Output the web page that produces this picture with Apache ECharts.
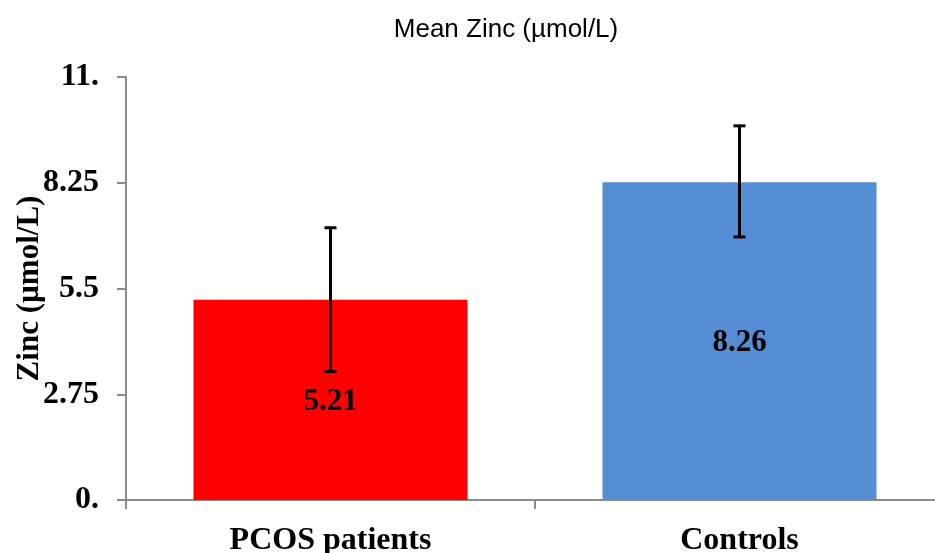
<!DOCTYPE html>
<html>
<head>
<meta charset="utf-8">
<script src="https://cdn.jsdelivr.net/npm/echarts@6/dist/echarts.min.js"></script>
<style>
  html, body { margin: 0; padding: 0; background: #fff; }
  #chart { width: 935px; height: 553px; }
</style>
</head>
<body>
<div id="chart"></div>
<script>
// Mean serum zinc by group, with standard deviation
const categories = ['PCOS patients', 'Controls'];
const meanZinc = [5.21, 8.26];
const sdLow = [1.87, 1.42];
const sdHigh = [1.87, 1.47];
const barColors = ['#ff0000', '#558ed5'];
const yTicks = [0, 2.75, 5.5, 8.25, 11];

const chart = echarts.init(document.getElementById('chart'));

const errorData = categories.map((c, i) => [i, meanZinc[i] - sdLow[i], meanZinc[i] + sdHigh[i]]);

const serif = '"Liberation Serif", "Times New Roman", serif';

chart.setOption({
  animation: false,
  title: {
    text: 'Mean Zinc (µmol/L)',
    left: 501,
    top: 12,
    textAlign: 'center',
    textStyle: { fontFamily: 'Liberation Sans, Arial, sans-serif', fontSize: 26, fontWeight: 'normal', color: '#000' }
  },
  grid: { left: 126, top: 77, width: 818, height: 423, containLabel: false, outerBoundsMode: 'none' },
  xAxis: {
    type: 'category',
    data: categories,
    axisLine: { lineStyle: { color: '#8c8c8c', width: 2 } },
    axisTick: { show: true, alignWithLabel: false, length: 9, lineStyle: { color: '#8c8c8c', width: 2 } },
    axisLabel: { color: '#000', fontFamily: serif, fontWeight: 'bold', fontSize: 32, margin: 25 }
  },
  yAxis: {
    type: 'value',
    min: 0,
    max: 11,
    interval: 2.75,
    name: 'Zinc (µmol/L)',
    nameLocation: 'middle',
    nameGap: 81,
    nameMoveOverlap: false,
    nameTextStyle: { color: '#000', fontFamily: serif, fontWeight: 'bold', fontSize: 31 },
    axisLine: { show: true, lineStyle: { color: '#8c8c8c', width: 2 } },
    axisTick: { show: true, length: 9, lineStyle: { color: '#8c8c8c', width: 2 } },
    splitLine: { show: false },
    axisLabel: {
      color: '#000', fontFamily: serif, fontWeight: 'bold', fontSize: 32, margin: 27,
      formatter: v => {
        const t = yTicks.find(x => Math.abs(x - v) < 1e-9);
        if (t === undefined) return '';
        return Number.isInteger(t) ? t + '.' : String(t);
      }
    }
  },
  series: [
    {
      type: 'bar',
      barCategoryGap: '33%',
      data: meanZinc.map((v, i) => ({ value: v, itemStyle: { color: barColors[i] } })),
      label: {
        show: true,
        position: 'inside',
        offset: [0, 2],
        color: '#000',
        fontFamily: serif,
        fontWeight: 'bold',
        fontSize: 31,
        formatter: p => p.value.toFixed(2)
      }
    },
    {
      type: 'custom',
      data: errorData,
      z: 10,
      renderItem: (params, api) => {
        const x = api.value(0);
        const lo = api.coord([x, api.value(1)]);
        const hi = api.coord([x, api.value(2)]);
        const cap = 6;
        const style = { stroke: '#000', lineWidth: 3 };
        return {
          type: 'group',
          children: [
            { type: 'line', shape: { x1: hi[0], y1: hi[1], x2: lo[0], y2: lo[1] }, style },
            { type: 'line', shape: { x1: hi[0] - cap, y1: hi[1], x2: hi[0] + cap, y2: hi[1] }, style },
            { type: 'line', shape: { x1: lo[0] - cap, y1: lo[1], x2: lo[0] + cap, y2: lo[1] }, style }
          ]
        };
      }
    }
  ]
});
</script>
</body>
</html>
